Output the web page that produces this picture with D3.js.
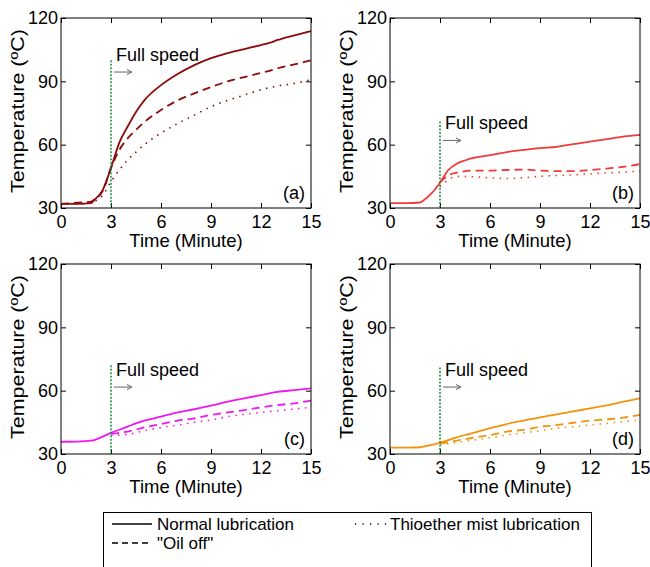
<!DOCTYPE html>
<html>
<head>
<meta charset="utf-8">
<script src="https://cdn.jsdelivr.net/npm/d3@7"></script>
<style>
  body { margin: 0; background: #fff; }
  svg { font-family: "Liberation Sans", Arial, sans-serif; }
</style>
</head>
<body>
<script>
const W = 650, H = 567

// time axis (minutes)
const time = [0, 1, 1.8, 2, 2.5, 3, 3.5, 4, 4.5, 5, 6, 7, 8, 9, 10, 11, 12, 12.5, 13, 14, 15]
const timeLate = [3, 3.5, 4, 5, 6, 7, 8, 9, 10, 11, 12, 13, 14, 15]

// panel (a)
const aNormal = [32, 32, 32.3, 33.8, 38.5, 49, 61, 68.6, 75.5, 81, 88.2, 93.5, 97.7, 101, 103.4, 105.3, 107.2, 108.2, 109.6, 111.8, 113.8]
const aOil = [32, 32.5, 33, 34, 38, 49, 57.5, 63, 67, 70.7, 76.4, 81, 84.3, 87.3, 90, 92, 94, 95, 96.2, 98, 100]
const aMist = [32, 32, 32.3, 33, 36, 42.5, 48, 52.7, 56.5, 60, 65.5, 70, 74, 78, 81, 83.5, 86, 87, 87.8, 89, 90.8]

// panel (b)
const bNormal = [32.3, 32.3, 32.6, 33.5, 37, 42, 48, 51, 52.5, 53.7, 55, 56.5, 57.5, 58.4, 59, 60.3, 61.4, 62, 62.6, 63.8, 64.6]
const bOil = [42, 45.5, 46.7, 47.7, 47.7, 48, 48.2, 47.7, 47.5, 47.5, 48, 48.7, 49.5, 50.8]
const bMist = [40, 43.3, 45, 44.8, 44.3, 44, 44.3, 45, 45.4, 45.7, 46.2, 46.6, 47, 47.5]

// panel (c)
const cNormal = [35.8, 35.9, 36.3, 36.6, 38.2, 40, 41.5, 43, 44.5, 45.8, 47.7, 49.7, 51.2, 52.9, 54.8, 56.4, 57.9, 58.7, 59.4, 60.3, 61.1]
const cOil = [39.5, 40, 40.6, 42.6, 44.2, 45.8, 46.9, 48.5, 49.7, 50.8, 52.1, 53.2, 54, 55.3]
const cMist = [38.7, 39, 39.3, 41, 42.5, 43.7, 45, 46.1, 47.7, 48.8, 49.7, 50.5, 51.3, 52.1]

// panel (d)
const dNormal = [33, 33, 33.2, 33.5, 34.3, 35.4, 36.6, 37.9, 39, 40, 42.2, 44.2, 45.8, 47.4, 48.8, 50.2, 51.6, 52.3, 53, 54.8, 56.4]
const dOil = [35, 35.6, 36.3, 37.7, 39, 40.6, 41.4, 42.9, 43.7, 44.8, 45.8, 46.4, 47.2, 48.5]
const dMist = [34.3, 34.8, 35.4, 36.6, 37.7, 39, 40, 41, 42.2, 42.9, 43.7, 44.5, 45.3, 46.1]

const xTicks = [0, 3, 6, 9, 12, 15]
const yTicks = [30, 60, 90, 120]
const legendLabels = ["Normal lubrication", "\"Oil off\"", "Thioether mist lubrication"]

const panels = [
  { tag: "(a)", color: "#8b0a0a", normal: aNormal, oil: aOil, oilT: time, mist: aMist, mistT: time, lineTop: 100, textAt: 99.6, arrowAt: 94.4, left: 61, top: 18 },
  { tag: "(b)", color: "#ef3b3b", normal: bNormal, oil: bOil, oilT: timeLate, mist: bMist, mistT: timeLate, lineTop: 71, textAt: 67.4, arrowAt: 62, left: 390, top: 18 },
  { tag: "(c)", color: "#f018f0", normal: cNormal, oil: cOil, oilT: timeLate, mist: cMist, mistT: timeLate, lineTop: 72, textAt: 67, arrowAt: 61.7, left: 61, top: 264 },
  { tag: "(d)", color: "#f0940e", normal: dNormal, oil: dOil, oilT: timeLate, mist: dMist, mistT: timeLate, lineTop: 71, textAt: 67, arrowAt: 61.7, left: 390, top: 264 }
]
const pw = 250, ph = 190

const svg = d3.select("body").append("svg").attr("width", W).attr("height", H)

panels.forEach(p => {
  const g = svg.append("g").attr("transform", `translate(${p.left},${p.top})`)
  const x = d3.scaleLinear([0, 15], [0, pw])
  const y = d3.scaleLinear([30, 120], [ph, 0])
  const line = t => d3.line().x((d, i) => x(t[i])).y(d => y(d)).curve(d3.curveMonotoneX)

  // ticks inside, on all sides
  const styleAxis = a => {
    a.select(".domain").remove()
    a.selectAll("line").attr("stroke", "#000")
    a.selectAll("text").attr("font-size", 18).attr("fill", "#000")
  }
  g.append("g").attr("transform", `translate(0,${ph})`)
    .call(d3.axisBottom(x).tickValues(xTicks).tickSizeInner(-5).tickSizeOuter(0).tickPadding(7)).call(styleAxis)
  g.append("g").call(d3.axisTop(x).tickValues(xTicks).tickSizeInner(-5).tickSizeOuter(0).tickFormat("")).call(styleAxis)
  g.append("g").call(d3.axisLeft(y).tickValues(yTicks).tickSizeInner(-5).tickSizeOuter(0).tickPadding(3)).call(styleAxis)
  g.append("g").attr("transform", `translate(${pw},0)`)
    .call(d3.axisRight(y).tickValues(yTicks).tickSizeInner(-5).tickSizeOuter(0).tickFormat("")).call(styleAxis)

  // curves
  g.append("path").attr("d", line(p.mistT)(p.mist)).attr("fill", "none").attr("stroke", p.color)
    .attr("stroke-width", 1.6).attr("stroke-dasharray", "1.5,5.5")
  g.append("path").attr("d", line(p.oilT)(p.oil)).attr("fill", "none").attr("stroke", p.color)
    .attr("stroke-width", 1.8).attr("stroke-dasharray", "8,5")
  g.append("path").attr("d", line(time)(p.normal)).attr("fill", "none").attr("stroke", p.color)
    .attr("stroke-width", 1.8)

  // full speed marker
  g.append("line").attr("x1", x(3)).attr("x2", x(3)).attr("y1", y(p.lineTop)).attr("y2", ph)
    .attr("stroke", "#1a8a3a").attr("stroke-width", 1.5).attr("stroke-dasharray", "2,1.5")
  g.append("text").attr("x", x(3) + 5).attr("y", y(p.textAt)).attr("font-size", 18).text("Full speed")
  const ay = y(p.arrowAt)
  g.append("line").attr("x1", x(3) + 3).attr("x2", x(3) + 20).attr("y1", ay).attr("y2", ay)
    .attr("stroke", "#666").attr("stroke-width", 1)
  g.append("path").attr("d", `M${x(3) + 16},${ay - 2.5}L${x(3) + 21},${ay}L${x(3) + 16},${ay + 2.5}`)
    .attr("fill", "none").attr("stroke", "#666").attr("stroke-width", 1)

  // box
  g.append("rect").attr("width", pw).attr("height", ph).attr("fill", "none").attr("stroke", "#000").attr("stroke-width", 1)

  g.append("text").attr("x", pw - 6).attr("y", ph - 9).attr("text-anchor", "end").attr("font-size", 18).text(p.tag)
  g.append("text").attr("x", pw / 2).attr("y", ph + 39).attr("text-anchor", "middle").attr("font-size", 18.5).text("Time (Minute)")
  g.append("text").attr("transform", `translate(-37,${ph / 2 - 2}) rotate(-90)`).attr("text-anchor", "middle")
    .attr("font-size", 18).attr("textLength", 164).attr("lengthAdjust", "spacingAndGlyphs").text("Temperature (ºC)")
})

// legend
const lg = svg.append("g")
lg.append("rect").attr("x", 103.5).attr("y", 512.5).attr("width", 488).attr("height", 70)
  .attr("fill", "#fff").attr("stroke", "#000").attr("stroke-width", 1)
const items = [
  { dash: null, lx: 112, lw: 40, tx: 157, ly: 524, label: legendLabels[0] },
  { dash: "6,4", lx: 112, lw: 40, tx: 157, ly: 543, label: legendLabels[1] },
  { dash: "1.2,6.3", lx: 355, lw: 32, tx: 390, ly: 524, label: legendLabels[2] }
]
items.forEach(it => {
  lg.append("line").attr("x1", it.lx).attr("x2", it.lx + it.lw).attr("y1", it.ly).attr("y2", it.ly)
    .attr("stroke", "#000").attr("stroke-width", 1.4).attr("stroke-dasharray", it.dash)
  lg.append("text").attr("x", it.tx).attr("y", it.ly + 6)
    .attr("font-size", 17).text(it.label)
})
</script>
</body>
</html>
